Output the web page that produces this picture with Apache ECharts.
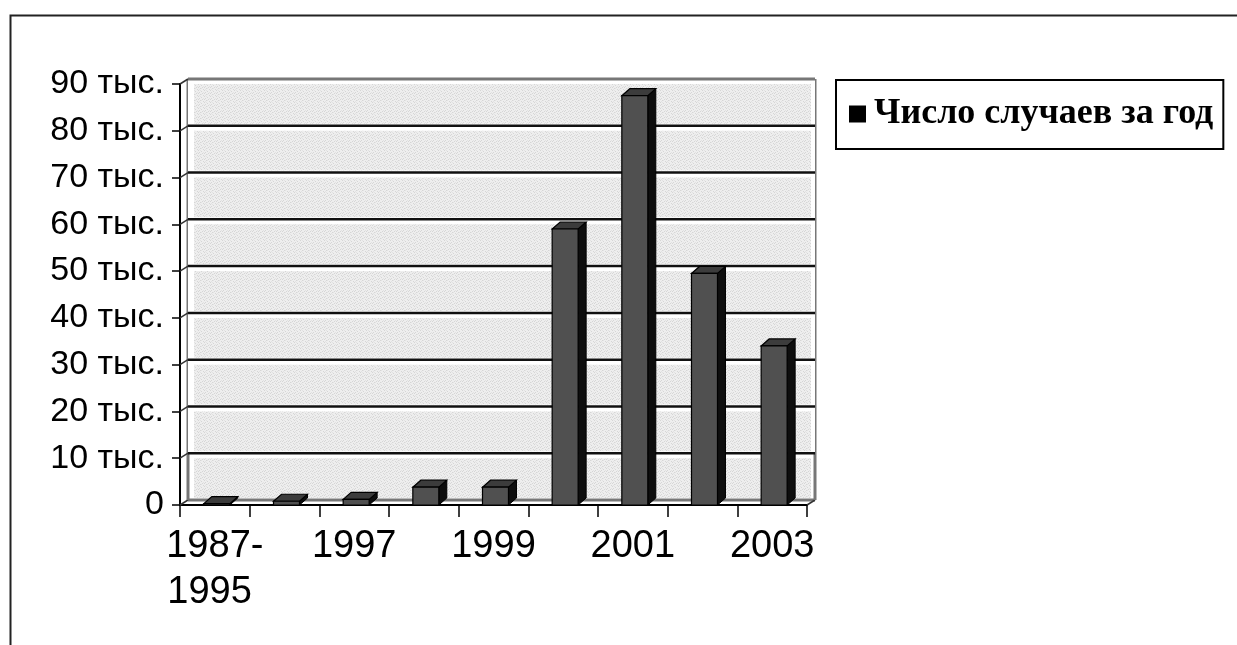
<!DOCTYPE html>
<html>
<head>
<meta charset="utf-8">
<script src="https://cdn.jsdelivr.net/npm/echarts@6/dist/echarts.min.js"></script>
<style>
  html, body { margin: 0; padding: 0; background: #fff; }
  #chart { width: 1237px; height: 645px; }
</style>
</head>
<body>
<div id="chart"></div>
<script>
// Reported cases per year, thousands
const categories = ['1987-1995', '1996', '1997', '1998', '1999', '2000', '2001', '2002', '2003'];
const casesThousands = [0.3, 0.8, 1.2, 3.8, 3.8, 59, 87.5, 49.5, 34];
const yTicks = [0, 10, 20, 30, 40, 50, 60, 70, 80, 90];
const seriesName = 'Число случаев за год';

// 3D depth offsets (pixels) of the back wall and of each column
const WALL_DX = 8, WALL_DY = -5;
const BAR_DX = 8, BAR_DY = -7;

// speckled light-grey texture for the back wall
function makeTexture() {
  const c = document.createElement('canvas');
  c.width = 6; c.height = 6;
  const g = c.getContext('2d');
  g.fillStyle = '#eeeeee';
  g.fillRect(0, 0, 6, 6);
  g.fillStyle = '#d6d6d6';
  [[0,0],[3,1],[1,2],[4,3],[2,4],[5,5],[0,3]].forEach(p => g.fillRect(p[0], p[1], 1, 1));
  g.fillStyle = '#e2e2e2';
  [[2,0],[5,2],[1,5],[3,4]].forEach(p => g.fillRect(p[0], p[1], 1, 1));
  return c;
}
const texture = makeTexture();

const chart = echarts.init(document.getElementById('chart'));

function renderWall(params, api) {
  const cs = params.coordSys;
  const v = api.value(0);
  const y = api.coord([0, v])[1];
  const x0 = cs.x, x1 = cs.x + cs.width;
  const children = [];
  const idx = yTicks.indexOf(v);
  if (idx < yTicks.length - 1) {
    const yNext = api.coord([0, yTicks[idx + 1]])[1];
    // band between this gridline and the next one on the back wall
    children.push({
      type: 'rect',
      shape: { x: x0 + WALL_DX, y: yNext + WALL_DY, width: cs.width, height: y - yNext },
      style: { fill: '#ffffff' }
    });
    children.push({
      type: 'rect',
      shape: { x: x0 + WALL_DX + 6, y: yNext + WALL_DY + 5, width: cs.width - 10, height: y - yNext - 7 },
      style: { fill: { image: texture, repeat: 'repeat' } }
    });
  }
  // gridline on the back wall and its diagonal on the side wall
  const isEdge = (v === 0 || idx === yTicks.length - 1);
  children.push({
    type: 'line',
    shape: { x1: x0 + WALL_DX, y1: y + WALL_DY, x2: x1 + WALL_DX, y2: y + WALL_DY },
    style: { stroke: isEdge ? '#777' : '#111', lineWidth: isEdge ? 3 : 2.5 }
  });
  children.push({
    type: 'line',
    shape: { x1: x0, y1: y, x2: x0 + WALL_DX, y2: y + WALL_DY },
    style: { stroke: '#333', lineWidth: 1.5 }
  });
  if (v === 0) {
    // floor edge at the right and the wall's vertical edges
    children.push({
      type: 'line',
      shape: { x1: x1, y1: y, x2: x1 + WALL_DX, y2: y + WALL_DY },
      style: { stroke: '#333', lineWidth: 1.5 }
    });
    const yTop = api.coord([0, yTicks[yTicks.length - 1]])[1];
    children.push({
      type: 'line',
      shape: { x1: x0 + WALL_DX, y1: yTop + WALL_DY, x2: x0 + WALL_DX, y2: y + WALL_DY },
      style: { stroke: '#777', lineWidth: 3 }
    });
    children.push({
      type: 'line',
      shape: { x1: x1 + WALL_DX, y1: yTop + WALL_DY, x2: x1 + WALL_DX, y2: y + WALL_DY },
      style: { stroke: '#777', lineWidth: 3 }
    });
  }
  return { type: 'group', children };
}

function renderBar(params, api) {
  const i = api.value(0);
  const val = api.value(1);
  const base = api.coord([i, 0]);
  const top = api.coord([i, val]);
  const bw = api.size([1, 0])[0];
  const xl = base[0] - bw * 0.158;
  const xr = base[0] + bw * 0.215;
  const yb = base[1], yt = top[1];
  return {
    type: 'group',
    children: [
      { // right side face
        type: 'polygon',
        shape: { points: [[xr, yt], [xr + BAR_DX, yt + BAR_DY], [xr + BAR_DX, yb + BAR_DY], [xr, yb]] },
        style: { fill: '#0e0e0e', stroke: '#000', lineWidth: 1 }
      },
      { // top face
        type: 'polygon',
        shape: { points: [[xl, yt], [xl + BAR_DX, yt + BAR_DY], [xr + BAR_DX, yt + BAR_DY], [xr, yt]] },
        style: { fill: '#3c3c3c', stroke: '#000', lineWidth: 1.2 }
      },
      { // front face
        type: 'rect',
        shape: { x: xl, y: yt, width: xr - xl, height: yb - yt },
        style: { fill: '#505050', stroke: '#000', lineWidth: 1.2 }
      }
    ]
  };
}

chart.setOption({
  animation: false,
  backgroundColor: '#ffffff',
  graphic: [{
    type: 'rect',
    left: 8, top: 13,
    shape: { width: 1400, height: 800 },
    style: { fill: 'none', stroke: '#222', lineWidth: 2 },
    silent: true
  }],
  grid: { left: 180, right: 430, top: 84, bottom: 140, containLabel: false },
  legend: {
    data: [seriesName],
    left: 836, top: 80,
    orient: 'vertical',
    padding: [16, 10, 17, 13],
    borderColor: '#000',
    borderWidth: 2,
    itemWidth: 17, itemHeight: 17,
    itemGap: 0,
    icon: 'rect',
    itemStyle: { color: '#000' },
    textStyle: { fontFamily: 'Liberation Serif', fontWeight: 'bold', fontSize: 36, color: '#000', padding: [0, 0, 0, 3] }
  },
  xAxis: {
    type: 'category',
    data: categories,
    boundaryGap: true,
    axisLine: { show: true, lineStyle: { color: '#000', width: 2 } },
    axisTick: { show: true, length: 12, interval: 0, lineStyle: { color: '#000', width: 1.5 } },
    axisLabel: {
      interval: 1,
      margin: 19,
      fontFamily: 'Liberation Sans',
      fontSize: 38,
      color: '#000',
      lineHeight: 46,
      formatter: v => v === '1987-1995' ? '1987-\n1995 ' : v
    },
    splitLine: { show: false }
  },
  yAxis: {
    type: 'value',
    min: 0, max: 90, interval: 10,
    axisLine: { show: true, lineStyle: { color: '#000', width: 2 } },
    axisTick: { show: true, length: 8, lineStyle: { color: '#000', width: 1.5 } },
    axisLabel: {
      margin: 16,
      fontFamily: 'Liberation Sans',
      fontSize: 34,
      color: '#000',
      padding: [0, 0, 4, 0],
      formatter: v => v === 0 ? '0' : v + ' тыс.'
    },
    splitLine: { show: false }
  },
  series: [
    {
      name: 'wall',
      type: 'custom',
      renderItem: renderWall,
      data: yTicks.map(v => [v]),
      encode: { y: 0 },
      silent: true,
      z: 1
    },
    {
      name: seriesName,
      type: 'custom',
      renderItem: renderBar,
      itemStyle: { color: '#505050' },
      data: casesThousands.map((v, i) => [i, v]),
      encode: { x: 0, y: 1 },
      z: 3
    }
  ]
});
</script>
</body>
</html>
